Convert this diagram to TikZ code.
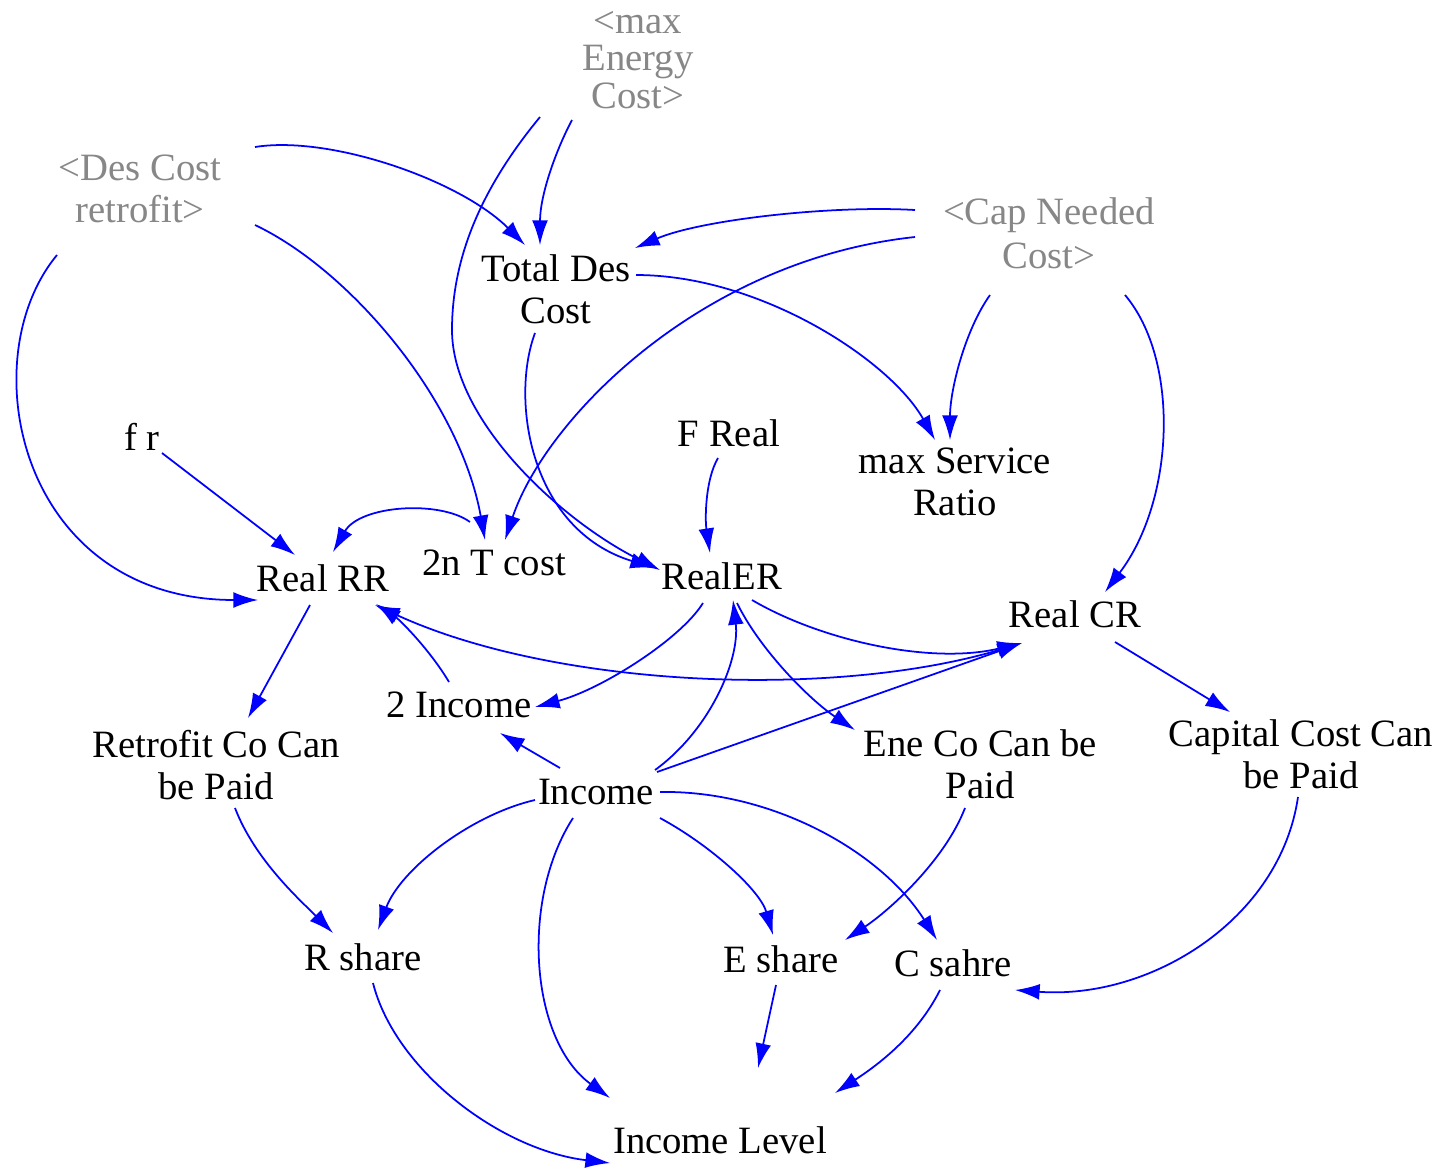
\documentclass[tikz,border=0pt]{standalone}
\usepackage{fontspec}
\setmainfont{Liberation Serif}
\usetikzlibrary{arrows.meta,calc}
\definecolor{lnk}{RGB}{0,0,255}
\definecolor{shd}{RGB}{135,135,135}
\begin{document}
\begin{tikzpicture}[x=0.01cm,y=-0.01cm,
  lbl/.style={align=center,font=\fontsize{11}{12}\selectfont,inner sep=0pt},
  ghost/.style={lbl,text=shd},
  arr/.style={draw=lnk,line width=0.5pt,-{Latex[length=7pt,width=4.5pt]}}]
\path[use as bounding box,fill=white] (0,0) rectangle (1439,1172);
% nodes
\node[ghost,font=\fontsize{11}{10.6}\selectfont] (maxE) at (638,60) {<max\\Energy\\Cost>};
\node[ghost] (desC) at (140,189) {<Des Cost\\retrofit>};
\node[ghost,font=\fontsize{11}{12.6}\selectfont] (capN) at (1049,233) {<Cap Needed\\Cost>};
\node[lbl] (tdc) at (556,289) {Total Des\\Cost};
\node[lbl] (fr) at (142,437) {f r};
\node[lbl] (freal) at (729,433) {F Real};
\node[lbl] (msr) at (955,482) {max Service\\Ratio};
\node[lbl] (tnt) at (494,563) {2n T cost};
\node[lbl] (rrr) at (323,578) {Real RR};
\node[lbl] (rer) at (722,576) {RealER};
\node[lbl] (rcr) at (1075,614) {Real CR};
\node[lbl] (inc2) at (459,705) {2 Income};
\node[lbl] (rcp) at (216,765) {Retrofit Co Can\\be Paid};
\node[lbl] (ecp) at (980,764) {Ene Co Can be\\Paid};
\node[lbl] (ccp) at (1301,754) {Capital Cost Can\\be Paid};
\node[lbl] (inc) at (596,792) {Income};
\node[lbl] (rsh) at (363,957) {R share};
\node[lbl] (esh) at (781,959) {E share};
\node[lbl] (csh) at (953,963) {C sahre};
\node[lbl] (il) at (720,1140) {Income Level};
% connectors
\draw[arr] ($(maxE)+(-66,60)$) .. controls (556,150) and (540,195) .. ($(tdc)+(-16,-44)$);
\draw[arr] ($(maxE)+(-98,57)$) .. controls (488,180) and (452,250) .. (452,330) .. controls (452,420) and (560,520) .. ($(rer)+(-62,-6)$);
\draw[arr] ($(desC)+(115,-42)$) .. controls (330,135) and (460,180) .. ($(tdc)+(-31,-44)$);
\draw[arr] ($(capN)+(-134,-23)$) .. controls (830,205) and (700,220) .. ($(tdc)+(79,-41)$);
\draw[arr] ($(capN)+(-134,4)$) .. controls (700,260) and (545,420) .. ($(tnt)+(11,-23)$);
\draw[arr] ($(tdc)+(80,-14)$) .. controls (760,275) and (890,360) .. ($(msr)+(-20,-42)$);
\draw[arr] ($(capN)+(-59,62)$) .. controls (965,330) and (950,390) .. ($(msr)+(-5,-42)$);
\draw[arr] ($(capN)+(76,62)$) .. controls (1180,360) and (1175,500) .. ($(rcr)+(30,-22)$);
\draw[arr] ($(desC)+(-83,66)$) .. controls (-30,360) and (20,600) .. ($(rrr)+(-65,22)$);
\draw[arr] ($(desC)+(115,36)$) .. controls (350,270) and (460,400) .. ($(tnt)+(-9,-23)$);
\draw[arr] ($(fr)+(20,16)$) -- ($(rrr)+(-28,-23)$);
\draw[arr] ($(tnt)+(-24,-41)$) .. controls (440,500) and (360,505) .. ($(rrr)+(10,-26)$);
\draw[arr] ($(freal)+(-11,25)$) .. controls (705,480) and (705,520) .. ($(rer)+(-12,-23)$);
\draw[arr] ($(tdc)+(-21,44)$) .. controls (510,400) and (530,530) .. ($(rer)+(-67,-8)$);
\draw[arr] ($(rer)+(-19,27)$) .. controls (680,640) and (600,690) .. ($(inc2)+(76,2)$);
\draw[arr] ($(rer)+(30,24)$) .. controls (820,640) and (930,665) .. ($(rcr)+(-53,29)$);
\draw[arr] ($(rcr)+(-60,31)$) .. controls (850,700) and (560,690) .. ($(rrr)+(52,27)$);
\draw[arr] ($(inc)+(61,-20)$) -- ($(rcr)+(-53,29)$);
\draw[arr] ($(inc)+(59,-22)$) .. controls (710,730) and (740,660) .. ($(rer)+(11,24)$);
\draw[arr] ($(rer)+(15,27)$) .. controls (760,650) and (810,700) .. ($(ecp)+(-125,-34)$);
\draw[arr] ($(inc)+(-36,-24)$) -- ($(inc2)+(41,28)$);
\draw[arr] ($(inc2)+(-10,-23)$) .. controls (430,650) and (400,620) .. ($(rrr)+(53,26)$);
\draw[arr] ($(rrr)+(-13,27)$) -- ($(rcp)+(32,-47)$);
\draw[arr] ($(rcp)+(19,43)$) .. controls (255,860) and (300,900) .. ($(rsh)+(-30,-24)$);
\draw[arr] ($(inc)+(-61,8)$) .. controls (470,815) and (400,870) .. ($(rsh)+(15,-27)$);
\draw[arr] ($(inc)+(-23,26)$) .. controls (520,900) and (530,1040) .. ($(il)+(-110,-42)$);
\draw[arr] ($(inc)+(64,26)$) .. controls (710,845) and (760,890) .. ($(esh)+(-8,-24)$);
\draw[arr] ($(inc)+(64,0)$) .. controls (770,790) and (880,850) .. ($(csh)+(-16,-23)$);
\draw[arr] ($(ecp)+(-15,44)$) .. controls (945,860) and (890,910) .. ($(esh)+(64,-19)$);
\draw[arr] ($(rcr)+(40,28)$) -- ($(ccp)+(-71,-42)$);
\draw[arr] ($(ccp)+(-3,43)$) .. controls (1280,920) and (1150,1000) .. ($(csh)+(62,27)$);
\draw[arr] ($(rsh)+(10,26)$) .. controls (395,1070) and (500,1150) .. ($(il)+(-110,23)$);
\draw[arr] ($(esh)+(-5,26)$) -- ($(il)+(38,-72)$);
\draw[arr] ($(csh)+(-13,27)$) .. controls (915,1040) and (870,1070) .. ($(il)+(115,-47)$);
\end{tikzpicture}
\end{document}
